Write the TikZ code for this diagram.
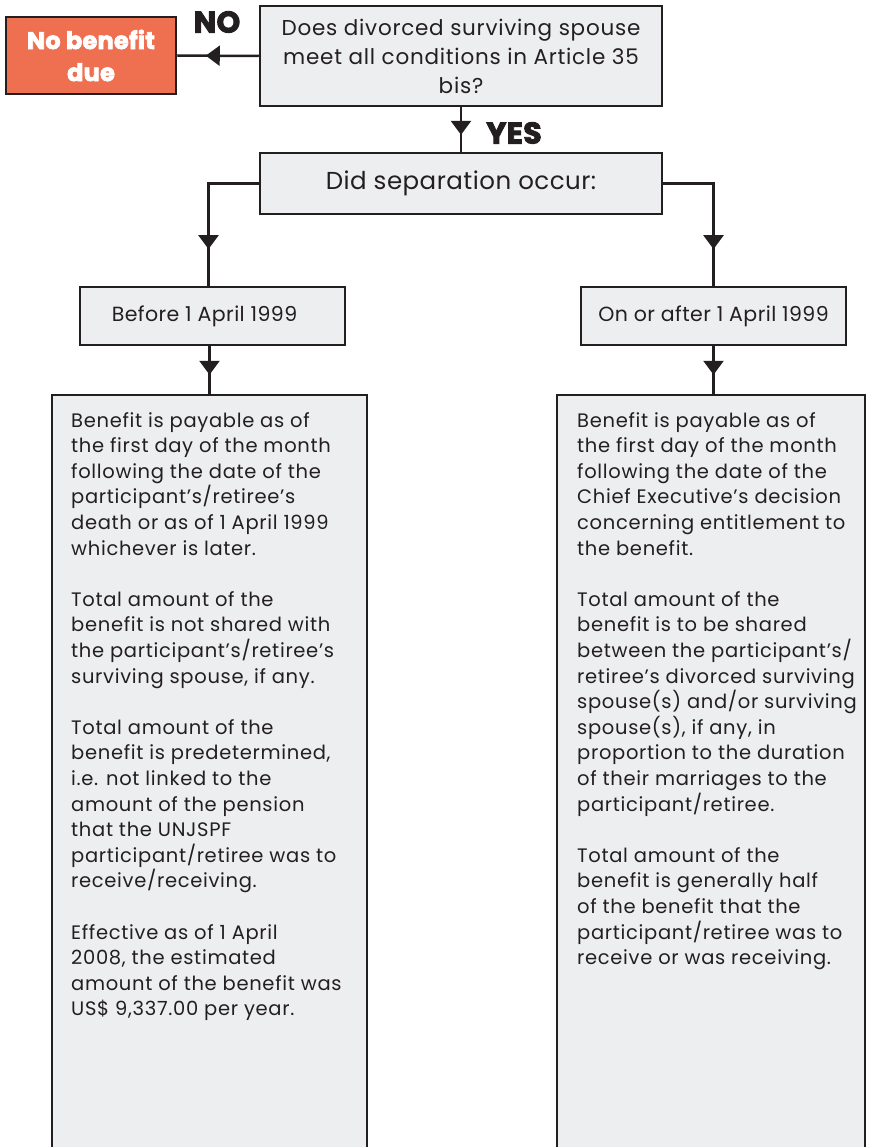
\documentclass[tikz,border=0pt]{standalone}
\usepackage{fontspec}
\setmainfont{Poppins}[LetterSpace=2,Numbers=Monospaced]
\newfontfamily\bodyf{Poppins}[LetterSpace=3.5,Numbers=Monospaced]
\newfontfamily\heavy{Poppins}[BoldFeatures={FakeBold=3},LetterSpace=1]
\usetikzlibrary{arrows.meta,decorations.markings}
\definecolor{boxgray}{HTML}{EDEEF0}
\definecolor{edge}{HTML}{231F20}
\definecolor{nobox}{HTML}{EF6F51}
\begin{document}
\begin{tikzpicture}[x=1pt,y=-1pt,
  box/.style={draw=edge,line width=2.5pt,fill=boxgray,inner sep=0pt,text=edge},
  conn/.style={draw=edge,line width=2.5pt},
  arr/.style={postaction={decorate},decoration={markings,mark=at position #1 with {\arrow{Triangle[width=20pt,length=14pt]}}}},
  body/.style={anchor=north west,align=left,inner sep=0pt,text=edge,font=\bodyf\fontsize{19.5}{25.6}\selectfont},
  lab/.style={font=\heavy\bfseries\fontsize{30}{34}\selectfont,text=edge,inner sep=0pt},
]
\clip (0,0) rectangle (872,1147);
\fill[white] (0,0) rectangle (872,1147);
\node[box,minimum width=402pt,minimum height=100pt,align=center,font=\bodyf\fontsize{21.5}{29}\selectfont] (q) at (461,56) {Does divorced surviving spouse\\meet all conditions in Article 35\\bis?};
\node[draw=edge,line width=2.5pt,fill=nobox,text=white,inner sep=0pt,minimum width=170pt,minimum height=77pt,align=center,font=\heavy\bfseries\fontsize{24}{32}\selectfont] (nb) at (91,55.5) {No benefit\\due};
\node[box,minimum width=402pt,minimum height=61pt,font=\fontsize{24.5}{28}\selectfont] (s) at (461,183.5) {Did separation occur:};
\node[box,minimum width=265pt,minimum height=58pt,font=\fontsize{20.5}{24}\selectfont] (b) at (212.5,316) {Before 1 April 1999\hspace*{16pt}};
\node[box,minimum width=265pt,minimum height=58pt,font=\fontsize{20.5}{24}\selectfont] (a) at (713.5,316) {On or after 1 April 1999};
\node[box,minimum width=315pt,minimum height=780pt] (l) at (209.5,785) {};
\node[box,minimum width=308pt,minimum height=780pt] (r) at (711,785) {};
\node[lab] (no) at (217,22) {NO};
\node[lab] (yes) at (514,133) {YES};
\draw[conn,arr=0.65] (q.west) -- (nb.east);
\draw[conn,arr=0.62] (q.south) -- (s.north);
\draw[conn,arr=0.76] (s.west) -| ([xshift=-4pt]b.north);
\draw[conn,arr=0.76] (s.east) -| (a.north);
\draw[conn,arr=0.6] ([xshift=-3pt]b.south) -- ([xshift=-3pt]b.south |- l.north);
\draw[conn,arr=0.6] (a.south) -- (a.south |- r.north);
\node[body] (lt) at (71,412) {Benefit is payable as of\\the first day of the month\\following the date of the\\participant’s/retiree’s\\death or as of 1 April 1999\\whichever is later.\\[25.6pt]Total amount of the\\benefit is not shared with\\the participant’s/retiree’s\\surviving spouse, if any.\\[25.6pt]Total amount of the\\benefit is predetermined,\\i.e. not linked to the\\amount of the pension\\that the UNJSPF\\participant/retiree was to\\receive/receiving.\\[25.6pt]Effective as of 1 April\\2008, the estimated\\amount of the benefit was\\US\$ 9,337.00 per year.};
\node[body] (rt) at (577,412) {Benefit is payable as of\\the first day of the month\\following the date of the\\Chief Executive’s decision\\concerning entitlement to\\the benefit.\\[25.6pt]Total amount of the\\benefit is to be shared\\between the participant’s/\\retiree’s divorced surviving\\spouse(s) and/or surviving\\spouse(s), if any, in\\proportion to the duration\\of their marriages to the\\participant/retiree.\\[25.6pt]Total amount of the\\benefit is generally half\\of the benefit that the\\participant/retiree was to\\receive or was receiving.};
\end{tikzpicture}
\end{document}
